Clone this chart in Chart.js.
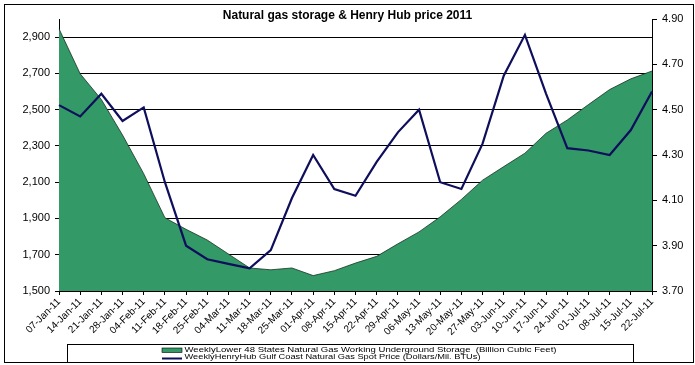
<!DOCTYPE html>
<html>
<head>
<meta charset="utf-8">
<script src="https://cdn.jsdelivr.net/npm/chart.js@4.4.1/dist/chart.umd.min.js"></script>
<style>
  html, body { margin: 0; padding: 0; background: #fff; }
  canvas { display: block; }
</style>
</head>
<body>
<canvas id="c" width="695" height="365"></canvas>
<script>
const chartTitle = 'Natural gas storage & Henry Hub price 2011';
const categories = ['07-Jan-11','14-Jan-11','21-Jan-11','28-Jan-11','04-Feb-11','11-Feb-11','18-Feb-11','25-Feb-11',
  '04-Mar-11','11-Mar-11','18-Mar-11','25-Mar-11','01-Apr-11','08-Apr-11','15-Apr-11','22-Apr-11','29-Apr-11',
  '06-May-11','13-May-11','20-May-11','27-May-11','03-Jun-11','10-Jun-11','17-Jun-11','24-Jun-11',
  '01-Jul-11','08-Jul-11','15-Jul-11','22-Jul-11'];
const storageLabel = 'WeeklyLower 48 States Natural Gas Working Underground Storage  (Billion Cubic Feet)';
const priceLabel = 'WeeklyHenryHub Gulf Coast Natural Gas Spot Price (Dollars/Mil. BTUs)';
const storageValues = [2946, 2698, 2556, 2360, 2147, 1904, 1840, 1781, 1704, 1627, 1617, 1627, 1585, 1612, 1654, 1691, 1760,
  1826, 1909, 2005, 2111, 2186, 2260, 2370, 2443, 2528, 2611, 2670, 2713];
const priceValues = [4.52, 4.47, 4.57, 4.45, 4.51, 4.18, 3.90, 3.84, 3.82, 3.80, 3.88, 4.11, 4.30, 4.15, 4.12, 4.27, 4.40,
  4.50, 4.18, 4.15, 4.35, 4.65, 4.83, 4.57, 4.33, 4.32, 4.30, 4.41, 4.58];
const leftTicks = [1500, 1700, 1900, 2100, 2300, 2500, 2700, 2900];
const rightTicks = [3.70, 3.90, 4.10, 4.30, 4.50, 4.70, 4.90];

const FONT = "'Liberation Sans', Arial, sans-serif";
const GREEN = '#339966';
const NAVY = '#0e0e5c';

function fmtThousands(v) {
  return String(Math.round(v)).replace(/\B(?=(\d{3})+(?!\d))/g, ',');
}

const decorPlugin = {
  id: 'decor',
  beforeDraw(chart) {
    const ctx = chart.ctx;
    ctx.save();
    ctx.fillStyle = '#fff';
    ctx.fillRect(0, 0, chart.width, chart.height);
    ctx.restore();
  },
  afterDraw(chart) {
    const ctx = chart.ctx;
    ctx.save();
    // outer border
    ctx.strokeStyle = '#000';
    ctx.lineWidth = 1;
    ctx.strokeRect(4.5, 4.5, 689, 358);
    // title
    ctx.fillStyle = '#000';
    ctx.font = 'bold 12px ' + FONT;
    ctx.textAlign = 'center';
    ctx.textBaseline = 'middle';
    ctx.fillText(chartTitle, 347.5, 16);
    // legend box
    ctx.fillStyle = '#fff';
    ctx.fillRect(67.5, 344.5, 566, 18);
    ctx.strokeRect(67.5, 344.5, 566, 18);
    // swatches
    ctx.fillStyle = GREEN;
    ctx.fillRect(162, 348, 20, 4.5);
    ctx.strokeStyle = '#000';
    ctx.lineWidth = 0.6;
    ctx.strokeRect(162, 348, 20, 4.5);
    ctx.strokeStyle = NAVY;
    ctx.lineWidth = 2;
    ctx.beginPath();
    ctx.moveTo(162, 358.5);
    ctx.lineTo(182, 358.5);
    ctx.stroke();
    // legend texts (compressed like the reference)
    const entries = [[storageLabel, 350.3, 372], [priceLabel, 357.3, 296]];
    ctx.font = '10px ' + FONT;
    ctx.textAlign = 'left';
    ctx.textBaseline = 'middle';
    ctx.fillStyle = '#000';
    for (const [txt, y, w] of entries) {
      const m = ctx.measureText(txt).width;
      ctx.save();
      ctx.translate(184.5, y);
      ctx.scale(w / m, 0.78);
      ctx.fillText(txt, 0, 0);
      ctx.restore();
    }
    ctx.restore();
  }
};

new Chart(document.getElementById('c'), {
  type: 'line',
  data: {
    labels: categories,
    datasets: [
      {
        label: priceLabel,
        data: priceValues,
        yAxisID: 'y1',
        borderColor: NAVY,
        borderWidth: 2.2,
        pointRadius: 0,
        fill: false,
        tension: 0,
        order: 0
      },
      {
        label: storageLabel,
        data: storageValues,
        yAxisID: 'y',
        borderColor: '#1b3326',
        borderWidth: 0.8,
        backgroundColor: GREEN,
        pointRadius: 0,
        fill: 'start',
        tension: 0,
        order: 1
      }
    ]
  },
  options: {
    responsive: false,
    animation: false,
    devicePixelRatio: 1,
    layout: { padding: { top: 19, left: 0, right: 0, bottom: 0 } },
    plugins: {
      legend: { display: false },
      title: { display: false },
      tooltip: { enabled: false }
    },
    scales: {
      x: {
        type: 'category',
        offset: false,
        grid: { drawOnChartArea: false, drawTicks: true, tickLength: 4, color: '#000' },
        border: { color: '#000' },
        ticks: {
          autoSkip: false, minRotation: 45, maxRotation: 45, padding: 1,
          color: '#000', font: { family: FONT, size: 10 }
        },
        afterFit: s => { s.height = 74; }
      },
      y: {
        position: 'left',
        min: 1500, max: 3000,
        afterBuildTicks: s => { s.ticks = leftTicks.map(v => ({ value: v })); },
        grid: { color: '#000', lineWidth: 1, drawTicks: true, tickLength: 4 },
        border: { color: '#000' },
        ticks: {
          callback: v => fmtThousands(v), padding: 5,
          color: '#000', font: { family: FONT, size: 11 }
        },
        afterFit: s => { s.width = 59; }
      },
      y1: {
        position: 'right',
        min: 3.7, max: 4.9,
        afterBuildTicks: s => { s.ticks = rightTicks.map(v => ({ value: v })); },
        grid: { drawOnChartArea: false, drawTicks: true, tickLength: 5, color: '#000' },
        border: { color: '#000' },
        ticks: {
          callback: v => Number(v).toFixed(2), padding: 5,
          color: '#000', font: { family: FONT, size: 11 }
        },
        afterFit: s => { s.width = 43; }
      }
    }
  },
  plugins: [decorPlugin]
});
</script>
</body>
</html>
